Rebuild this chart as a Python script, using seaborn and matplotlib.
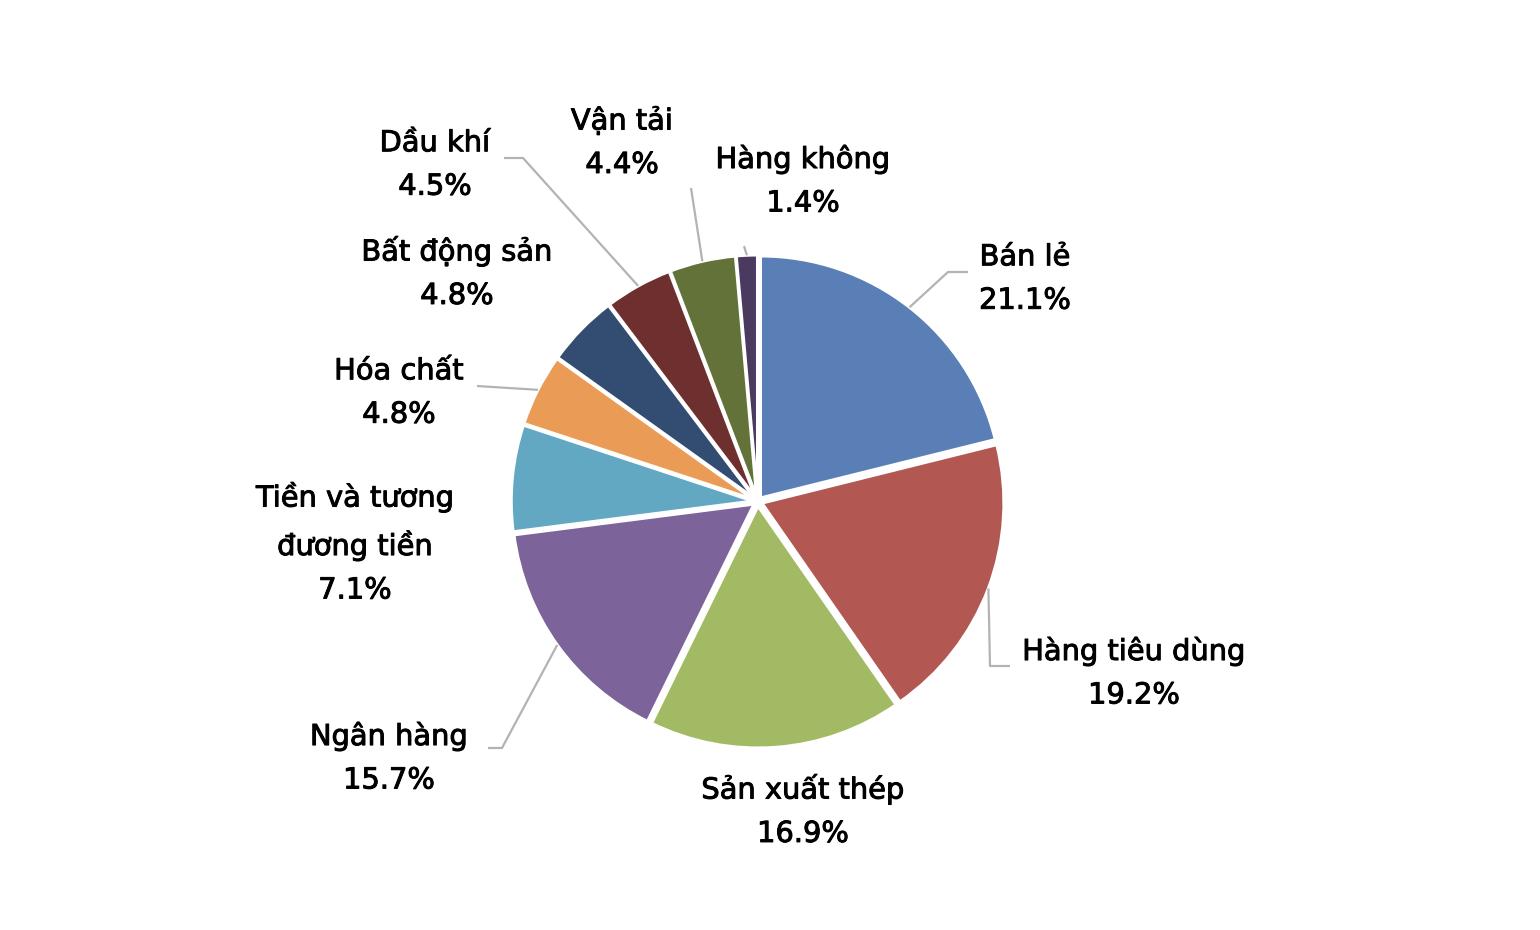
import numpy as np
import matplotlib
matplotlib.use("Agg")
import matplotlib.pyplot as plt
import matplotlib.patheffects as pe
import seaborn as sns

# data (clockwise from 12 o'clock)
sectors = ["Bán lẻ", "Hàng tiêu dùng", "Sản xuất thép", "Ngân hàng",
           "Tiền và tương\nđương tiền", "Hóa chất", "Bất động sản",
           "Dầu khí", "Vận tải", "Hàng không"]
shares = [21.1, 19.2, 16.9, 15.7, 7.1, 4.8, 4.8, 4.5, 4.4, 1.4]
colors = ["#5A7FB6", "#B25752", "#A2BA63", "#7C639A", "#63A8C3",
          "#EA9B56", "#334C71", "#6D302E", "#637238", "#4B3A60"]

# label block centres, pixel coords (x, y from top)
label_pos = [(1025, 279), (1134, 673), (803, 811), (389, 758), (355, 543),
             (399, 393), (457, 273), (435, 165), (622, 143), (803, 181)]
# leader line bends (None = no leader)
leader_pts = [[(948, 272), (968, 272)],
              [(990, 666), (1010, 666)],
              None,
              [(502, 748), (488, 748)],
              None,
              [(477, 386)],
              None,
              [(523, 158), (504, 158)],
              [(691, 188)],
              [(744, 246)]]

W, H = 1540, 930
cx, cy, R = 757.7, 501.5, 242

sns.set_theme(style="white")
plt.rcParams["font.family"] = ["DejaVu Sans"]

fig = plt.figure(figsize=(W / 100, H / 100), dpi=100)
ax = fig.add_axes([0, 0, 1, 1])

explode = [4.5] * len(shares)  # pie explode is in data units here
wedges, _ = ax.pie(shares, colors=sns.color_palette(colors), startangle=90,
                   counterclock=False, center=(cx, H - cy), radius=R,
                   explode=explode,
                   wedgeprops=dict(edgecolor="white", linewidth=2.2))
ax.set_xlim(0, W)
ax.set_ylim(0, H)
ax.set_aspect("equal")
ax.axis("off")

# slightly heavier glyphs, like the cleartype rendering in the source
heavy = [pe.withStroke(linewidth=0.7, foreground="black")]

for w, name, val, pos, pts in zip(wedges, sectors, shares, label_pos, leader_pts):
    ax.text(pos[0], H - pos[1], f"{name}\n{val:.1f}%", ha="center", va="center",
            fontsize=20.8, color="black", linespacing=1.7, path_effects=heavy)
    if pts is None:
        continue
    mid = np.deg2rad((w.theta1 + w.theta2) / 2)
    wx, wy = w.center
    ax_pt = (wx + w.r * np.cos(mid), wy + w.r * np.sin(mid))
    xs = [ax_pt[0]] + [p[0] for p in pts]
    ys = [ax_pt[1]] + [H - p[1] for p in pts]
    ax.plot(xs, ys, color="#B3B3B3", lw=1.6, solid_capstyle="butt")

fig.savefig("out.png", dpi=100, facecolor="white")
